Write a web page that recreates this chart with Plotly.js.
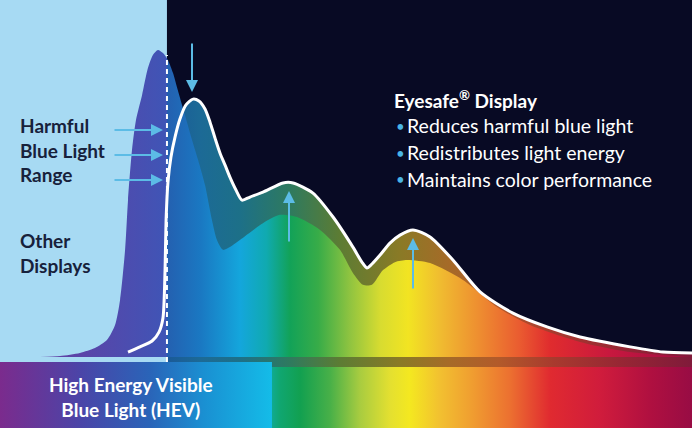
<!DOCTYPE html>
<html>
<head>
<meta charset="utf-8">
<script src="https://cdn.plot.ly/plotly-3.0.1.min.js"></script>
<style>html,body{margin:0;padding:0;background:#080a24;}#chart{width:692px;height:428px;}</style>
</head>
<body>
<div id="chart"></div>
<script>
// Wavelength (nm) and relative intensity (% of the other-display peak)
const otherWl = [403.1,414.7,426.2,434.9,441.8,446.5,449.4,452.3,454.0,456.3,458.6,462.1,465.5,468.4,471.3,474.2,477.1,480.0,482.3,486.9,491.0,494.5,498.5,502.5,505.4,508.9,512.9,518.7,532.0,541.8,551.7,565.0,576.5,584.0,589.8,595.0,601.4,608.3,615.3,628.6,647.6,667.3,686.4,715.3,744.2,780.0];
const otherInt = [0,0.3,1.3,2.9,5.5,10.4,18.6,34.9,51.1,67.4,77.2,85.3,94.1,98.4,100,99.0,96.7,92.5,87.9,78.8,70.7,64.2,56.0,44.6,38.1,34.9,35.8,38.1,43.6,46.3,45.6,41.4,34.9,27.4,23.5,23.5,28.3,30.9,31.6,30.6,25.1,16.3,10.4,4.9,1.6,0];

const eyesafeWl = [454.0,460.9,467.9,471.9,474.2,475.4,476.0,477.1,478.8,481.2,484.0,487.5,491.6,495.0,498.5,501.4,504.3,507.2,510.1,512.9,516.4,519.9,524.5,532.0,543.6,549.4,560.9,572.5,584.0,589.2,592.1,595.0,599.7,605.4,611.2,618.7,628.6,641.8,657.5,676.5,696.2,715.3,744.2,763.2,780.0];
const eyesafeInt = [1.6,3.3,5.2,8.1,12.7,28.3,44.6,57.0,65.1,71.7,77.5,82.1,84.0,83.4,80.8,76.5,71.3,66.4,62.5,58.6,54.4,51.1,52.1,53.7,56.7,56.7,53.4,45.6,35.8,30.9,29.0,30.3,33.2,37.1,39.7,41.4,39.1,31.6,21.2,14.3,9.8,6.5,3.3,1.6,1.3];

// Visible spectrum scale and HEV band
const wlMin = 380, wlMax = 780;
const hevEdge = 476.5;      // harmful blue light boundary (dashed line)
const hevBoxEnd = 537.2;
const intMin = -23.13, intMax = 116.29;
const barTop = -3.26, boxTop = -1.63;

// Labels
const harmfulLabel = ['Harmful','Blue Light','Range'];
const otherLabel = ['Other','Displays'];
const hevLabel = ['High Energy Visible','Blue Light (HEV)'];
const eyesafeTitle = 'Eyesafe<sup>®</sup> Display';
const eyesafeBullets = ['Reduces harmful blue light','Redistributes light energy','Maintains color performance'];

// Colour scales
const brightSpectrum = [[0,'#6a3c9f'],[0.12,'#5a44a8'],[0.2413,'#3f55b6'],[0.2414,'#2460b0'],[0.29,'#1a78c2'],[0.347,'#14a6dc'],[0.385,'#10aab0'],[0.419,'#12a258'],[0.46,'#38ac48'],[0.506,'#90c440'],[0.55,'#d8dc30'],[0.59,'#f2e422'],[0.636,'#f0bc30'],[0.694,'#ee8c30'],[0.75,'#ea5c30'],[0.795,'#e02c2e'],[0.88,'#c8183e'],[1,'#a00c44']];
const darkSpectrum = [[0,'#5a44a8'],[0.2413,'#3f55b6'],[0.2414,'#1a5a98'],[0.29,'#1c6a96'],[0.347,'#1d7088'],[0.42,'#2f7a5e'],[0.49,'#5c7c34'],[0.578,'#8a7a26'],[0.65,'#a66a28'],[0.72,'#b25a2a'],[0.8,'#a83a2e'],[0.9,'#962634'],[1,'#801a3a']];
const barSpectrum = [[0,'#7b2a8c'],[0.087,'#5c3598'],[0.145,'#3d4aa8'],[0.217,'#2a5cb2'],[0.275,'#1c82c8'],[0.332,'#12b0e0'],[0.376,'#10b0c0'],[0.405,'#10a670'],[0.434,'#12a050'],[0.477,'#48b048'],[0.52,'#a8cc40'],[0.564,'#e4e030'],[0.592,'#f4e820'],[0.636,'#f2c030'],[0.679,'#f0a030'],[0.737,'#ec7030'],[0.795,'#e02a30'],[0.867,'#d01c3c'],[0.939,'#b01040'],[1,'#980c44']];
const boxSpectrum = [[0,'#7b2b8d'],[0.3,'#4a45a8'],[0.55,'#2a64b8'],[0.75,'#1a90d2'],[1,'#14bce8']];

const grad = (cs, s, e) => ({type:'horizontal', colorscale: cs, start: s, stop: e});

const traces = [
  { // shadow strip under chart
    x:[hevEdge,wlMax,wlMax,hevEdge,hevEdge], y:[0.3,0.3,barTop,barTop,0.3],
    mode:'lines', line:{width:0}, fill:'toself', fillgradient: grad(darkSpectrum, wlMin, wlMax), hoverinfo:'skip'
  },
  { // spectrum bar
    x:[wlMin,wlMax,wlMax,wlMin,wlMin], y:[barTop,barTop,intMin-1,intMin-1,barTop],
    mode:'lines', line:{width:0}, fill:'toself', fillgradient: grad(barSpectrum, wlMin, wlMax), hoverinfo:'skip'
  },
  { // HEV box
    x:[wlMin,hevBoxEnd,hevBoxEnd,wlMin,wlMin], y:[boxTop,boxTop,intMin-1,intMin-1,boxTop],
    mode:'lines', line:{width:0}, fill:'toself', fillgradient: grad(boxSpectrum, wlMin, hevBoxEnd), hoverinfo:'skip'
  },
  { // Eyesafe area (dark spectrum)
    x: eyesafeWl, y: eyesafeInt, mode:'lines', line:{width:0, shape:'spline', smoothing:0.7},
    fill:'tozeroy', fillgradient: grad(darkSpectrum, wlMin, wlMax), hoverinfo:'skip'
  },
  { // Other displays area (bright spectrum)
    x: otherWl, y: otherInt, mode:'lines', line:{width:0, shape:'spline', smoothing:0.7},
    fill:'tozeroy', fillgradient: grad(brightSpectrum, wlMin, wlMax), hoverinfo:'skip'
  },
  { // Eyesafe outline
    x: eyesafeWl, y: eyesafeInt, mode:'lines', line:{color:'#ffffff', width:3, shape:'spline', smoothing:0.7}, hoverinfo:'skip'
  }
];

const P = (px) => px/692, Q = (py) => 1 - py/428;
const FAM = 'Lato, "Open Sans", sans-serif';
const labelFont = {family:FAM, size:19, color:'#17213b'};
const whiteBold = {family:FAM, size:19, color:'#ffffff'};
const arrowCol = '#5cbce6';

const annotations = [
  {xref:'paper', yref:'paper', x:P(18), y:Q(150), xanchor:'left', yanchor:'middle', align:'left', showarrow:false,
   text:'<b>'+harmfulLabel.join('<br>')+'</b>', font:labelFont},
  {xref:'paper', yref:'paper', x:P(18), y:Q(253), xanchor:'left', yanchor:'middle', align:'left', showarrow:false,
   text:'<b>'+otherLabel.join('<br>')+'</b>', font:labelFont},
  {xref:'paper', yref:'paper', x:P(131), y:Q(397), xanchor:'center', yanchor:'middle', align:'center', showarrow:false,
   text:'<b>'+hevLabel.join('<br>')+'</b>', font:whiteBold},
  {xref:'paper', yref:'paper', x:P(392), y:Q(99), xanchor:'left', yanchor:'middle', showarrow:false,
   text:'<b>'+eyesafeTitle+'</b>', font:whiteBold}
];
eyesafeBullets.forEach((t,i) => {
  const py = 126 + i*26.5;
  annotations.push({xref:'paper', yref:'paper', x:P(394), y:Q(py), xanchor:'left', yanchor:'middle', showarrow:false,
    text:'•', font:{family:FAM, size:15, color:'#4ab4e4'}});
  annotations.push({xref:'paper', yref:'paper', x:P(405), y:Q(py), xanchor:'left', yanchor:'middle', showarrow:false,
    text:t, font:{family:FAM, size:19.5, color:'#ffffff'}});
});
[130,155,180].forEach(py => annotations.push({xref:'paper', yref:'paper', x:P(163), y:Q(py), text:'', showarrow:true,
  ax:-50, ay:0, arrowhead:2, arrowsize:1.2, arrowwidth:2, arrowcolor:arrowCol}));
annotations.push({xref:'paper', yref:'paper', x:P(192), y:Q(92), text:'', showarrow:true, ax:0, ay:-50, arrowhead:2, arrowsize:1.2, arrowwidth:2, arrowcolor:arrowCol});
annotations.push({xref:'paper', yref:'paper', x:P(289), y:Q(191), text:'', showarrow:true, ax:0, ay:52, arrowhead:2, arrowsize:1.2, arrowwidth:2, arrowcolor:arrowCol});
annotations.push({xref:'paper', yref:'paper', x:P(413), y:Q(238), text:'', showarrow:true, ax:0, ay:52, arrowhead:2, arrowsize:1.2, arrowwidth:2, arrowcolor:arrowCol});

const layout = {
  width:692, height:428, margin:{l:0,r:0,t:0,b:0},
  paper_bgcolor:'#080a24', plot_bgcolor:'#080a24', showlegend:false,
  xaxis:{range:[wlMin,wlMax], visible:false, fixedrange:true},
  yaxis:{range:[intMin,intMax], visible:false, fixedrange:true},
  shapes:[
    {type:'rect', layer:'below', xref:'x', yref:'y', x0:wlMin, x1:hevEdge, y0:boxTop, y1:intMax, fillcolor:'#a7daf3', line:{width:0}},
    {type:'line', layer:'above', xref:'x', yref:'y', x0:hevEdge, x1:hevEdge, y0:boxTop, y1:98.4, line:{color:'#ffffff', width:2, dash:'5px,4px'}}
  ],
  annotations: annotations
};

Plotly.newPlot('chart', traces, layout, {displayModeBar:false, staticPlot:true});
</script>
</body>
</html>
